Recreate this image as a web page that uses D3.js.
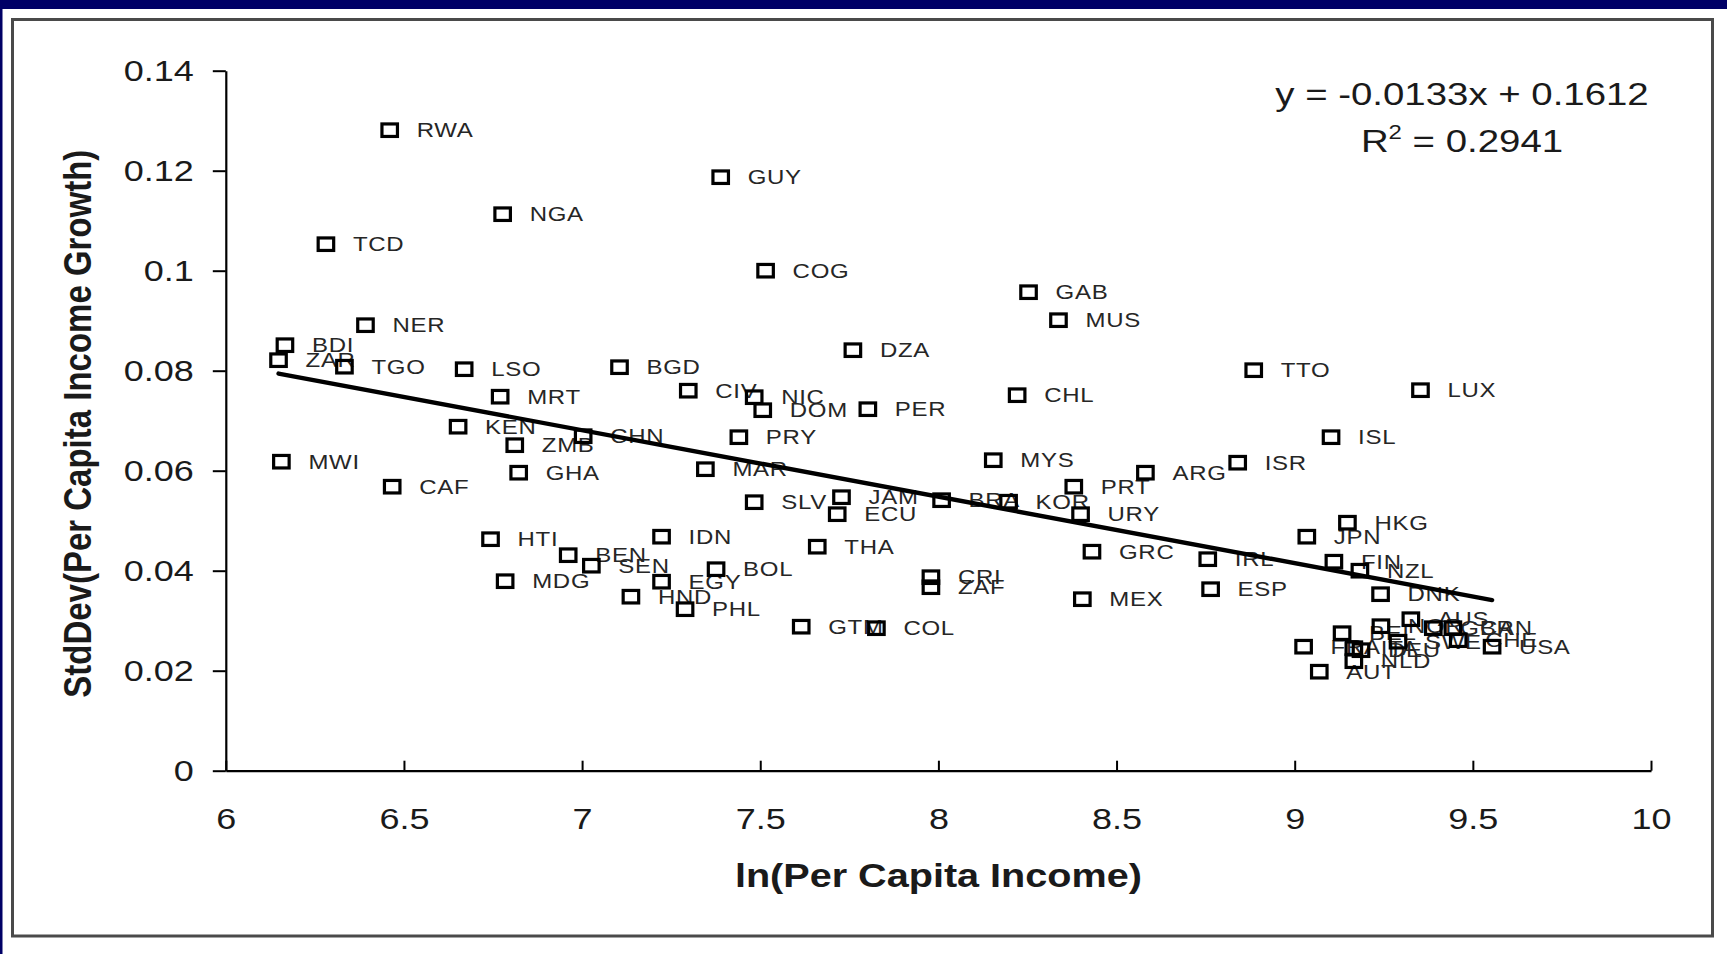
<!DOCTYPE html>
<html>
<head>
<meta charset="utf-8">
<script src="https://cdn.jsdelivr.net/npm/d3@7"></script>
<style>
  html, body { margin: 0; padding: 0; background: #ffffff; }
  svg { display: block; }
  text { font-family: "Liberation Sans", Arial, Helvetica, sans-serif; }
</style>
</head>
<body>
<svg id="chart" width="1727" height="954"></svg>
<script>
// Country codes, log per-capita income and std. dev. of per-capita income growth
const countries = [
  "RWA","GUY","NGA","TCD","COG","GAB","MUS","NER","BDI","ZAR",
  "TGO","LSO","BGD","DZA","TTO","LUX","CIV","NIC","DOM","PER",
  "CHL","MRT","KEN","CHN","ZMB","PRY","ISL","MWI","MYS","ISR",
  "GHA","MAR","ARG","CAF","PRT","SLV","JAM","BRA","KOR","ECU",
  "URY","HKG","HTI","IDN","JPN","THA","GRC","BEN","IRL","FIN",
  "SEN","BOL","NZL","MDG","EGY","CRI","ZAF","ESP","DNK","MEX",
  "HND","PHL","GTM","COL","FRA","BEL","ITA","DEU","NLD","AUT",
  "NOR","AUS","SWE","GBR","CAN","CHE","USA"
];
const lnIncome = [
  6.460, 7.389, 6.777, 6.281, 7.515, 8.253, 8.337, 6.392, 6.166, 6.148,
  6.333, 6.669, 7.105, 7.760, 8.885, 9.353, 7.298, 7.483, 7.507, 7.802,
  8.221, 6.770, 6.652, 7.003, 6.811, 7.440, 9.102, 6.156, 8.154, 8.840,
  6.822, 7.346, 8.581, 6.467, 8.380, 7.483, 7.728, 8.009, 8.197, 7.716,
  8.399, 9.148, 6.743, 7.223, 9.034, 7.660, 8.431, 6.961, 8.756, 9.110,
  7.026, 7.376, 9.183, 6.784, 7.223, 7.979, 7.979, 8.764, 9.241, 8.404,
  7.137, 7.289, 7.615, 7.826, 9.025, 9.133, 9.166, 9.186, 9.166, 9.069,
  9.242, 9.326, 9.290, 9.389, 9.444, 9.459, 9.554
];
const stdDevGrowth = [
  0.1281, 0.1187, 0.1113, 0.1053, 0.1000, 0.0957, 0.0901, 0.0891, 0.0851, 0.0821,
  0.0808, 0.0803, 0.0807, 0.0841, 0.0801, 0.0761, 0.0760, 0.0747, 0.0721, 0.0723,
  0.0751, 0.0748, 0.0688, 0.0669, 0.0651, 0.0667, 0.0667, 0.0618, 0.0621, 0.0616,
  0.0596, 0.0603, 0.0596, 0.0568, 0.0568, 0.0537, 0.0547, 0.0541, 0.0538, 0.0513,
  0.0513, 0.0496, 0.0463, 0.0468, 0.0468, 0.0448, 0.0438, 0.0431, 0.0423, 0.0418,
  0.0410, 0.0403, 0.0400, 0.0379, 0.0378, 0.0387, 0.0367, 0.0363, 0.0353, 0.0343,
  0.0348, 0.0323, 0.0288, 0.0285, 0.0248, 0.0275, 0.0245, 0.0241, 0.0219, 0.0198,
  0.0289, 0.0303, 0.0258, 0.0285, 0.0285, 0.0261, 0.0248
];

const xTicks = [6, 6.5, 7, 7.5, 8, 8.5, 9, 9.5, 10];
const yTicks = [0, 0.02, 0.04, 0.06, 0.08, 0.1, 0.12, 0.14];
const xTickLabels = ["6", "6.5", "7", "7.5", "8", "8.5", "9", "9.5", "10"];
const yTickLabels = ["0", "0.02", "0.04", "0.06", "0.08", "0.1", "0.12", "0.14"];

// Least-squares trend line reported on the chart
const trendSlope = -0.0133;
const trendIntercept = 0.1612;
const trendR2 = "0.2941";

const xTitle = "ln(Per Capita Income)";
const yTitle = "StdDev(Per Capita Income Growth)";

// ---------------------------------------------------------------------------
const W = 1727, H = 954;
const SX = 1.2;                          // horizontal stretch applied to all text
const plot = { left: 225.8, right: 1651, top: 70.7, bottom: 770.7 };

const svg = d3.select("#chart");

// slide background strips and chart frame
svg.append("rect").attr("x", 0).attr("y", 0).attr("width", W).attr("height", H).attr("fill", "#ffffff");
svg.append("rect").attr("x", 0).attr("y", 0).attr("width", W).attr("height", 9).attr("fill", "#000066");
svg.append("rect").attr("x", 0).attr("y", 0).attr("width", 2.5).attr("height", H).attr("fill", "#000066");
svg.append("rect")
  .attr("x", 12.5).attr("y", 19.5).attr("width", 1700).attr("height", 916.5)
  .attr("fill", "none").attr("stroke", "#4a4a4a").attr("stroke-width", 3);

const x = d3.scaleLinear().domain([6, 10]).range([plot.left, plot.right]);
const y = d3.scaleLinear().domain([0, 0.14]).range([plot.bottom, plot.top]);

// y axis: outward ticks
const yAxis = svg.append("g")
  .attr("transform", `translate(${plot.left},0)`)
  .call(d3.axisLeft(y).tickValues(yTicks).tickSize(13).tickSizeOuter(0)
        .tickFormat((d, i) => yTickLabels[i]));

// x axis: inward ticks
const xAxis = svg.append("g")
  .attr("transform", `translate(0,${plot.bottom})`)
  .call(d3.axisBottom(x).tickValues(xTicks).tickSize(-10).tickSizeOuter(0)
        .tickFormat((d, i) => xTickLabels[i]));

[yAxis, xAxis].forEach(g => {
  g.select(".domain").attr("stroke", "#000").attr("stroke-width", 2.2);
  g.selectAll(".tick line").attr("stroke", "#000").attr("stroke-width", 2);
  g.selectAll(".tick text")
    .attr("fill", "#1a1a1a")
    .attr("font-size", 30)
    .attr("font-family", "\"Liberation Sans\", Arial, sans-serif");
});

yAxis.selectAll(".tick text")
  .attr("x", 0).attr("dy", "0.36em")
  .attr("text-anchor", "end")
  .attr("transform", `translate(-32,-1.5) scale(${SX},1)`);

xAxis.selectAll(".tick text")
  .attr("y", 0).attr("dy", 0)
  .attr("text-anchor", "middle")
  .attr("transform", `translate(0,58) scale(${SX},1)`);

// axis titles
svg.append("text")
  .attr("text-anchor", "middle")
  .attr("font-weight", "bold")
  .attr("font-size", 33)
  .attr("fill", "#1a1a1a")
  .attr("transform", `translate(${(plot.left + plot.right) / 2},887) scale(${SX},1)`)
  .text(xTitle);

svg.append("text")
  .attr("text-anchor", "middle")
  .attr("font-weight", "bold")
  .attr("font-size", 33)
  .attr("fill", "#1a1a1a")
  .attr("transform", `translate(91,${(plot.top + plot.bottom) / 2 + 3}) scale(${SX},1) rotate(-90)`)
  .text(yTitle);

// data
const data = countries.map((c, i) => ({ code: c, lx: lnIncome[i], sd: stdDevGrowth[i] }));

// country labels
svg.append("g").selectAll("text")
  .data(data)
  .join("text")
  .attr("transform", d => `translate(${x(d.lx) + 27},${y(d.sd)}) scale(${SX},1)`)
  .attr("dy", "0.36em")
  .attr("font-size", 20)
  .attr("letter-spacing", 0.6)
  .attr("fill", "#262626")
  .text(d => d.code);

// hollow square markers
const mw = 15.5, mh = 12.5;
svg.append("g").selectAll("rect")
  .data(data)
  .join("rect")
  .attr("x", d => x(d.lx) - mw / 2)
  .attr("y", d => y(d.sd) - mh / 2)
  .attr("width", mw).attr("height", mh)
  .attr("fill", "none")
  .attr("stroke", "#000")
  .attr("stroke-width", 3.2);

// trend line across the observed income range
const xExt = d3.extent(lnIncome);
svg.append("line")
  .attr("x1", x(xExt[0])).attr("y1", y(trendSlope * xExt[0] + trendIntercept))
  .attr("x2", x(xExt[1])).attr("y2", y(trendSlope * xExt[1] + trendIntercept))
  .attr("stroke", "#000").attr("stroke-width", 4.4).attr("stroke-linecap", "round");

// equation and R-squared
const eq = svg.append("g").attr("fill", "#1a1a1a").attr("font-size", 32);
eq.append("text")
  .attr("text-anchor", "middle")
  .attr("transform", `translate(1462,105) scale(${SX},1)`)
  .text(`y = ${trendSlope.toFixed(4)}x + ${trendIntercept.toFixed(4)}`);
const r2 = eq.append("text")
  .attr("text-anchor", "middle")
  .attr("transform", `translate(1462,151.7) scale(${SX},1)`);
r2.append("tspan").text("R");
r2.append("tspan").attr("font-size", 20).attr("dy", -13).text("2");
r2.append("tspan").attr("dy", 13).text(` = ${trendR2}`);
</script>
</body>
</html>
